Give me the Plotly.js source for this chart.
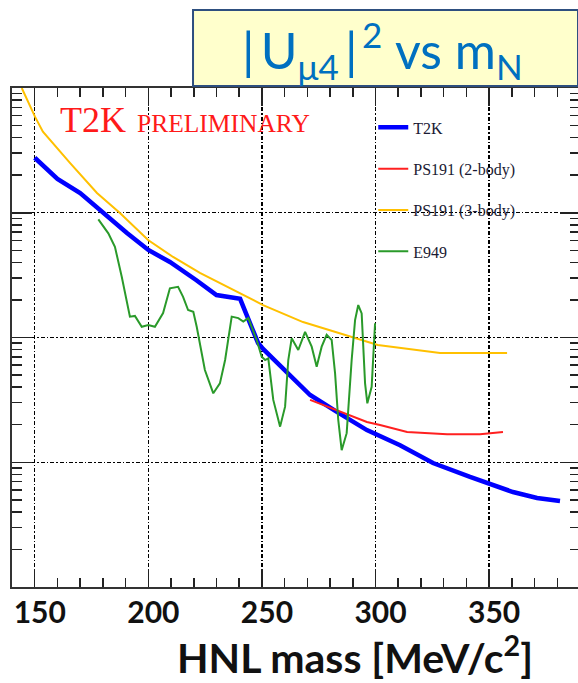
<!DOCTYPE html>
<html>
<head>
<meta charset="utf-8">
<script src="https://cdn.plot.ly/plotly-3.0.1.min.js"></script>
<style>
html,body{margin:0;padding:0;overflow:hidden;background:#fff;width:578px;height:683px;}
#chart{width:590px;height:683px;}
</style>
</head>
<body>
<div id="chart"></div>
<script>
// HNL mass [MeV/c^2] and |U_mu4|^2 limits
const massT2K = [150,160,170,180,190.6,200,209.5,221,230,240.4,248.3,250.5,261,271.2,283,296.2,310.8,325.3,341.6,351.3,360.5,371.1,381.2];
const uT2K = [2.76e-8,1.87e-8,1.44e-8,9.95e-9,6.89e-9,5.03e-9,4.03e-9,2.89e-9,2.19e-9,2.04e-9,9.04e-10,8.09e-10,5.19e-10,3.46e-10,2.53e-10,1.81e-10,1.37e-10,9.86e-11,7.62e-11,6.57e-11,5.77e-11,5.17e-11,4.89e-11];

const massPS3 = [144.3,150.1,153.6,165.5,177.4,187.5,199.9,210.9,222.7,233.3,250.5,268.1,288.8,301,328.4,357.9];
const uPS3 = [1.0e-7,5.89e-8,4.47e-8,2.51e-8,1.44e-8,9.95e-9,6.05e-9,4.42e-9,3.29e-9,2.64e-9,1.82e-9,1.33e-9,1.01e-9,8.71e-10,7.51e-10,7.51e-10];

const massPS2 = [271.2,283.0,296.2,302.0,313.9,331.5,346.0,356.1];
const uPS2 = [3.16e-10,2.62e-10,2.10e-10,1.99e-10,1.75e-10,1.68e-10,1.68e-10,1.75e-10];

const massE949 = [178.0,182.4,185.3,188.3,191.9,194.1,197.1,200.0,202.9,206.5,209.5,213.1,215.3,217.5,219.8,221.3,224.9,228.6,231.5,233.8,236.7,239.6,241.8,244.0,247.7,249.9,251.4,252.8,255.0,258.0,260.2,261.6,263.1,266.0,269.0,271.9,274.1,276.3,278.5,280.7,282.2,283.6,285.1,287.3,289.5,291.0,292.4,293.9,295.4,296.4,298.3,299.8];
const uE949 = [8.86e-9,6.84e-9,5.34e-9,3.07e-9,1.47e-9,1.49e-9,1.22e-9,1.26e-9,1.22e-9,1.57e-9,2.48e-9,2.55e-9,2.12e-9,1.66e-9,1.61e-9,1.22e-9,5.49e-10,3.57e-10,4.29e-10,6.60e-10,1.47e-9,1.43e-9,1.34e-9,1.43e-9,9.55e-10,7.02e-10,6.60e-10,6.81e-10,3.16e-10,1.93e-10,2.79e-10,6.60e-10,9.85e-10,7.94e-10,1.11e-9,8.44e-10,5.83e-10,8.44e-10,1.05e-9,9.55e-10,5.16e-10,2.18e-10,1.25e-10,1.71e-10,6.60e-10,1.38e-9,1.82e-9,1.56e-9,4.29e-10,2.97e-10,4.03e-10,1.30e-9];

const xTickVals = [150,200,250,300,350];
const xTickText = ['150','200','250','300','350'];

const traces = [
  {x: massT2K, y: uT2K, name: 'T2K', legendgroup: 'a', mode: 'lines', line: {color: '#0000ff', width: 4.5}},
  {x: massPS2, y: uPS2, name: 'PS191 (2-body)', legendgroup: 'b', mode: 'lines', line: {color: '#ff2020', width: 2}},
  {x: massPS3, y: uPS3, name: 'PS191 (3-body)', legendgroup: 'c', mode: 'lines', line: {color: '#ffc000', width: 2}},
  {x: massE949, y: uE949, name: 'E949', legendgroup: 'd', mode: 'lines', line: {color: '#2a9a2a', width: 2}}
];

const axCommon = {
  showline: true, linecolor: '#333', linewidth: 2, mirror: 'ticks',
  ticks: 'inside', tickcolor: '#222', tickwidth: 1.5,
  showgrid: true, gridcolor: '#000', gridwidth: 1.4, griddash: '4px,2px,1.5px,2px',
  zeroline: false
};

const layout = {
  width: 590, height: 683,
  margin: {l: 12, r: 10, t: 88, b: 96},
  paper_bgcolor: '#fff', plot_bgcolor: '#fff',
  showlegend: true,
  legend: {x: 0.636, xanchor: 'left', y: 0.955, yanchor: 'top', bgcolor: 'rgba(0,0,0,0)',
           tracegroupgap: 17.5, font: {family: 'Liberation Serif', size: 16, color: '#1a1a33'}},
  xaxis: Object.assign({}, axCommon, {
    range: [140, 390], tickvals: xTickVals, ticktext: xTickText, ticklen: 18,
    tickfont: {family: 'Lato', size: 30, color: '#111', weight: 'bold'},
    ticklabelshift: 5, ticklabelstandoff: -2,
    minor: {dtick: 10, tick0: 140, ticks: 'inside', ticklen: 9, tickcolor: '#222', showgrid: false}
  }),
  yaxis: Object.assign({}, axCommon, {
    type: 'log', range: [-11, -7], dtick: 1, ticklen: 20, showticklabels: false,
    minor: {dtick: 'D1', ticks: 'inside', ticklen: 10, tickcolor: '#222', showgrid: false}
  }),
  shapes: [
    {type: 'rect', xref: 'paper', yref: 'paper', x0: 0.3187, x1: 0.9965, y0: 1.004, y1: 1.1563,
     fillcolor: '#ffffcc', line: {color: '#2e4f7f', width: 2}, layer: 'above'}
  ],
  annotations: [
    {xref: 'paper', yref: 'paper', x: (382-12)/568, y: 1.076, xanchor: 'center', yanchor: 'middle', showarrow: false,
     text: '|\u2009U<sub>μ4</sub>\u2009|<sup>\u20092</sup> vs m<sub>N</sub>', font: {family: 'Lato', size: 50, color: '#0070c0'}},
    {xref: 'paper', yref: 'paper', x: (58-12)/568, y: (587-134)/499, xanchor: 'left', yanchor: 'bottom', showarrow: false,
     text: 'T2K', font: {family: 'Liberation Serif', size: 36, color: '#ff1a1a'}, yshift: -8},
    {xref: 'paper', yref: 'paper', x: (135-12)/568, y: (587-134)/499, xanchor: 'left', yanchor: 'bottom', showarrow: false,
     text: 'PRELIMINARY', font: {family: 'Liberation Serif', size: 25.5, color: '#ff1a1a'}, yshift: -6},
    {xref: 'paper', yref: 'paper', x: (355-12)/568, y: (587-655)/499, xanchor: 'center', yanchor: 'middle', showarrow: false,
     text: 'HNL mass [MeV/c<sup>2</sup>]', font: {family: 'Lato', size: 41, color: '#111', weight: 'bold'}}
  ]
};

Plotly.newPlot('chart', traces, layout, {displayModeBar: false, staticPlot: true});
</script>
</body>
</html>
